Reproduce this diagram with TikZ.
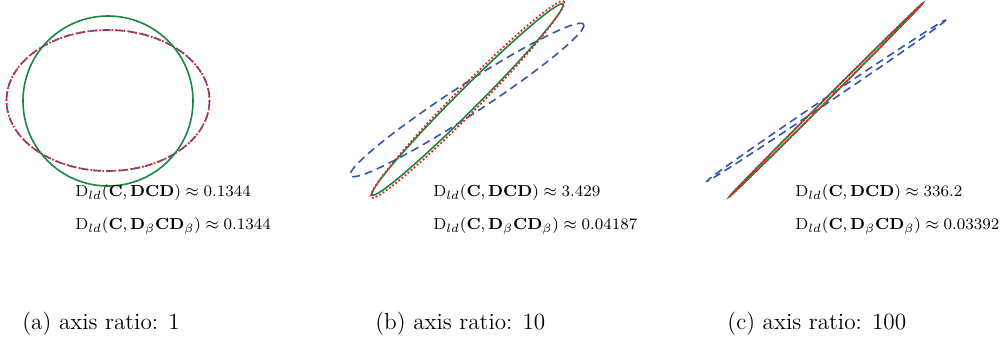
\documentclass[tikz,border=0pt]{standalone}
\usepackage{amsmath}
\definecolor{ggreen}{RGB}{25,135,65}
\definecolor{bblue}{RGB}{55,85,170}
\definecolor{rred}{RGB}{235,35,35}
\tikzset{
  solidg/.style={draw=ggreen, line width=0.8pt},
  dashb/.style={draw=bblue, line width=0.8pt, dash pattern=on 4pt off 2.5pt},
  dotr/.style={draw=rred, line width=0.9pt, dash pattern=on 0.9pt off 1.1pt},
  formula/.style={anchor=west, inner sep=0pt, font=\fontsize{8.5}{10}\selectfont},
  caption/.style={anchor=west, inner sep=0pt, font=\fontsize{11.6}{14}\selectfont},
}
\begin{document}
\begin{tikzpicture}[x=0.5pt,y=-0.5pt]
\useasboundingbox (0,0) rectangle (1005,341);
% panel (a)
\draw[dashb] (108,100.5) ellipse (101.5 and 70.5);
\draw[dotr] (108,100.5) ellipse (101.5 and 70.5);
\draw[solidg] (108,101) circle (85);
% panel (b)
\draw[dashb, shift={(467,100)}, rotate=33] (0,0) ellipse (139 and 15);
\draw[solidg, shift={(467.5,99.5)}, rotate=45] (0,0) ellipse (135 and 10.5);
\draw[dotr, shift={(467.5,99.5)}, rotate=45.5] (0,0) ellipse (137.5 and 12.5);
% panel (c)
\draw[dashb, shift={(826.5,100.5)}, rotate=34] (0,0) ellipse (144 and 2.6);
\draw[solidg, shift={(826,100)}, rotate=45] (0,0) ellipse (137 and 1.4);
\draw[dotr, shift={(826,100)}, rotate=45] (0,0) ellipse (137 and 1.4);
% formulas
\node[formula] (fa1) at (75,193) {$\mathrm{D}_{ld}(\mathbf{C},\mathbf{DCD})\approx 0.1344$};
\node[formula] (fa2) at (75,226) {$\mathrm{D}_{ld}(\mathbf{C},\mathbf{D}_\beta\mathbf{C}\mathbf{D}_\beta)\approx 0.1344$};
\node[formula] (fb1) at (433,193) {$\mathrm{D}_{ld}(\mathbf{C},\mathbf{DCD})\approx 3.429$};
\node[formula] (fb2) at (433,226) {$\mathrm{D}_{ld}(\mathbf{C},\mathbf{D}_\beta\mathbf{C}\mathbf{D}_\beta)\approx 0.04187$};
\node[formula] (fc1) at (795,193) {$\mathrm{D}_{ld}(\mathbf{C},\mathbf{DCD})\approx 336.2$};
\node[formula] (fc2) at (795,226) {$\mathrm{D}_{ld}(\mathbf{C},\mathbf{D}_\beta\mathbf{C}\mathbf{D}_\beta)\approx 0.03392$};
% captions
\node[caption] (ca) at (22,324) {(a) axis ratio: 1};
\node[caption] (cb) at (375,324) {(b) axis ratio: 10};
\node[caption] (cc) at (727,324) {(c) axis ratio: 100};
\end{tikzpicture}
\end{document}
